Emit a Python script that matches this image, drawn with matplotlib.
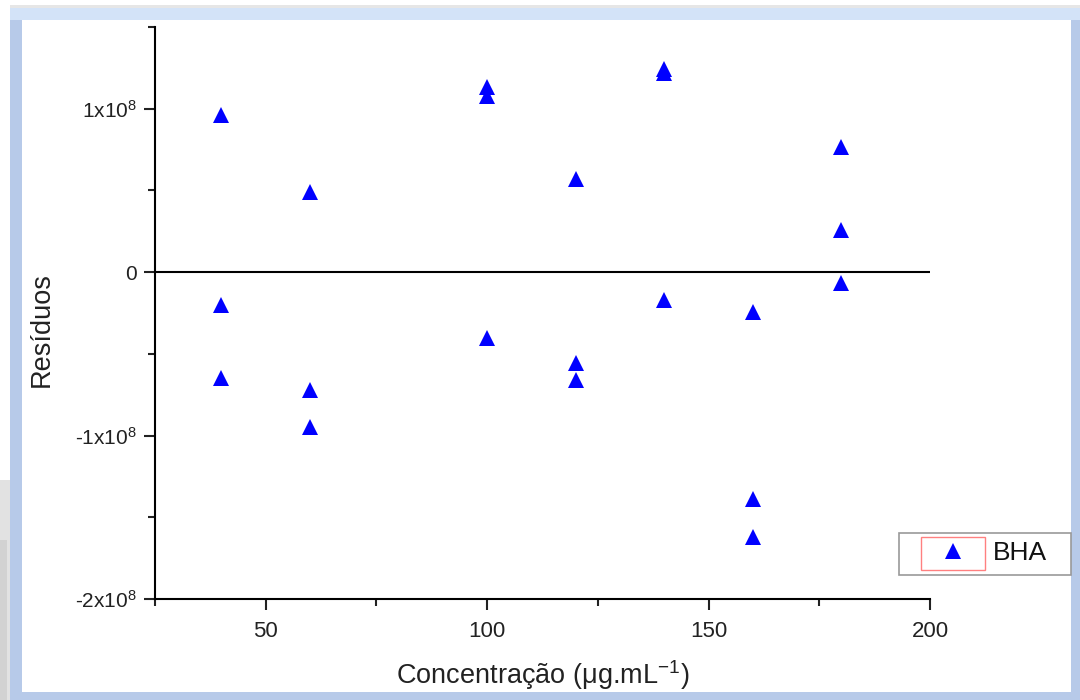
import matplotlib
matplotlib.use("Agg")
import matplotlib.pyplot as plt
from matplotlib.patches import Rectangle
from matplotlib.ticker import MultipleLocator, FuncFormatter

plt.rcParams['font.family'] = ['Liberation Sans', 'DejaVu Sans']
plt.rcParams['mathtext.fontset'] = 'custom'
plt.rcParams['mathtext.rm'] = 'Liberation Sans'
plt.rcParams['mathtext.it'] = 'Liberation Sans:italic'
plt.rcParams['mathtext.default'] = 'regular'

# Data (concentration, residuals)
conc = [40, 40, 40, 60, 60, 60, 100, 100, 100, 120, 120, 120,
        140, 140, 140, 160, 160, 160, 180, 180, 180]
residuals = [0.96e8, -0.20e8, -0.65e8,
             0.49e8, -0.72e8, -0.95e8,
             1.13e8, 1.075e8, -0.40e8,
             0.57e8, -0.556e8, -0.66e8,
             1.246e8, 1.216e8, -0.17e8,
             -0.244e8, -1.387e8, -1.62e8,
             0.764e8, 0.257e8, -0.067e8]
series_name = "BHA"
x_label = "Concentração (μg.mL$^{-1}$)"
y_label = "Resíduos"

W, H = 1080, 700
fig = plt.figure(figsize=(W / 100, H / 100), dpi=100)
fig.patch.set_facecolor('white')

def px(x0, y0, x1, y1):
    return (x0 / W, 1 - y1 / H), (x1 - x0) / W, (y1 - y0) / H

# shadow and frame
for (x0, y0, x1, y1, c) in [
    (0, 480, 10, 700, '#e2e2e2'),
    (0, 540, 7, 700, '#d2d2d2'),
    (10, 5, 1080, 8, '#e6e6e6'),
    (10, 8, 1080, 700, '#b7cae9'),
    (10, 8, 1080, 20, '#d3e3f8'),
    (22, 20, 1071, 692, 'white'),
]:
    xy, w, h = px(x0, y0, x1, y1)
    fig.patches.append(Rectangle(xy, w, h, transform=fig.transFigure,
                                 facecolor=c, edgecolor='none', zorder=-10))

ax = fig.add_axes([155 / W, 1 - 599 / H, (930 - 155) / W, (599 - 27) / H])
ax.set_facecolor('none')
ax.plot(conc, residuals, linestyle='none', marker='^', color='#0000ff',
        markersize=12, markeredgewidth=0, label=series_name, zorder=3)
ax.axhline(0, color='black', linewidth=1.5, zorder=2)

ax.set_xlim(25, 200)
ax.set_ylim(-2e8, 1.5e8)
for s in ['top', 'right']:
    ax.spines[s].set_visible(False)
for s in ['left', 'bottom']:
    ax.spines[s].set_linewidth(1.5)

ax.xaxis.set_major_locator(MultipleLocator(50))
ax.xaxis.set_minor_locator(MultipleLocator(25))
ax.yaxis.set_major_locator(MultipleLocator(1e8))
ax.yaxis.set_minor_locator(MultipleLocator(0.5e8))

def yfmt(v, pos):
    n = int(round(v / 1e8))
    if n == 0:
        return '0'
    return f'{n}x10$^{{8}}$'

ax.yaxis.set_major_formatter(FuncFormatter(yfmt))
ax.tick_params(which='major', direction='out', length=8, width=1.5,
               colors='#222222', pad=5)
ax.tick_params(which='minor', direction='out', length=5, width=1.5,
               colors='#222222')
ax.tick_params(axis='x', labelsize=16, pad=8)
ax.tick_params(axis='y', labelsize=15)

ax.set_xlabel(x_label, fontsize=19.5, color='#222222')
ax.set_ylabel(y_label, fontsize=19.5, color='#222222')
ax.xaxis.set_label_coords(0.5006, -0.103)
ax.yaxis.set_label_coords(-0.129, 0.471)

# legend frame and inner red box
xy, w, h = px(899, 533, 1071, 575)
fig.patches.append(Rectangle(xy, w, h, transform=fig.transFigure,
                             facecolor='white', edgecolor='#999999',
                             linewidth=1.2, zorder=4))
xy, w, h = px(921, 537, 985, 570)
fig.patches.append(Rectangle(xy, w, h, transform=fig.transFigure,
                             facecolor='none', edgecolor='#ff8080',
                             linewidth=1.0, zorder=4.5))
leg = fig.legend(loc='center left', bbox_to_anchor=(921 / W, 1 - 553 / H),
                 borderaxespad=0, borderpad=0, fontsize=19, frameon=False,
                 handlelength=2.42, handletextpad=0.3)
for t in leg.get_texts():
    t.set_color('#111111')

fig.savefig('out.png', dpi=100)
